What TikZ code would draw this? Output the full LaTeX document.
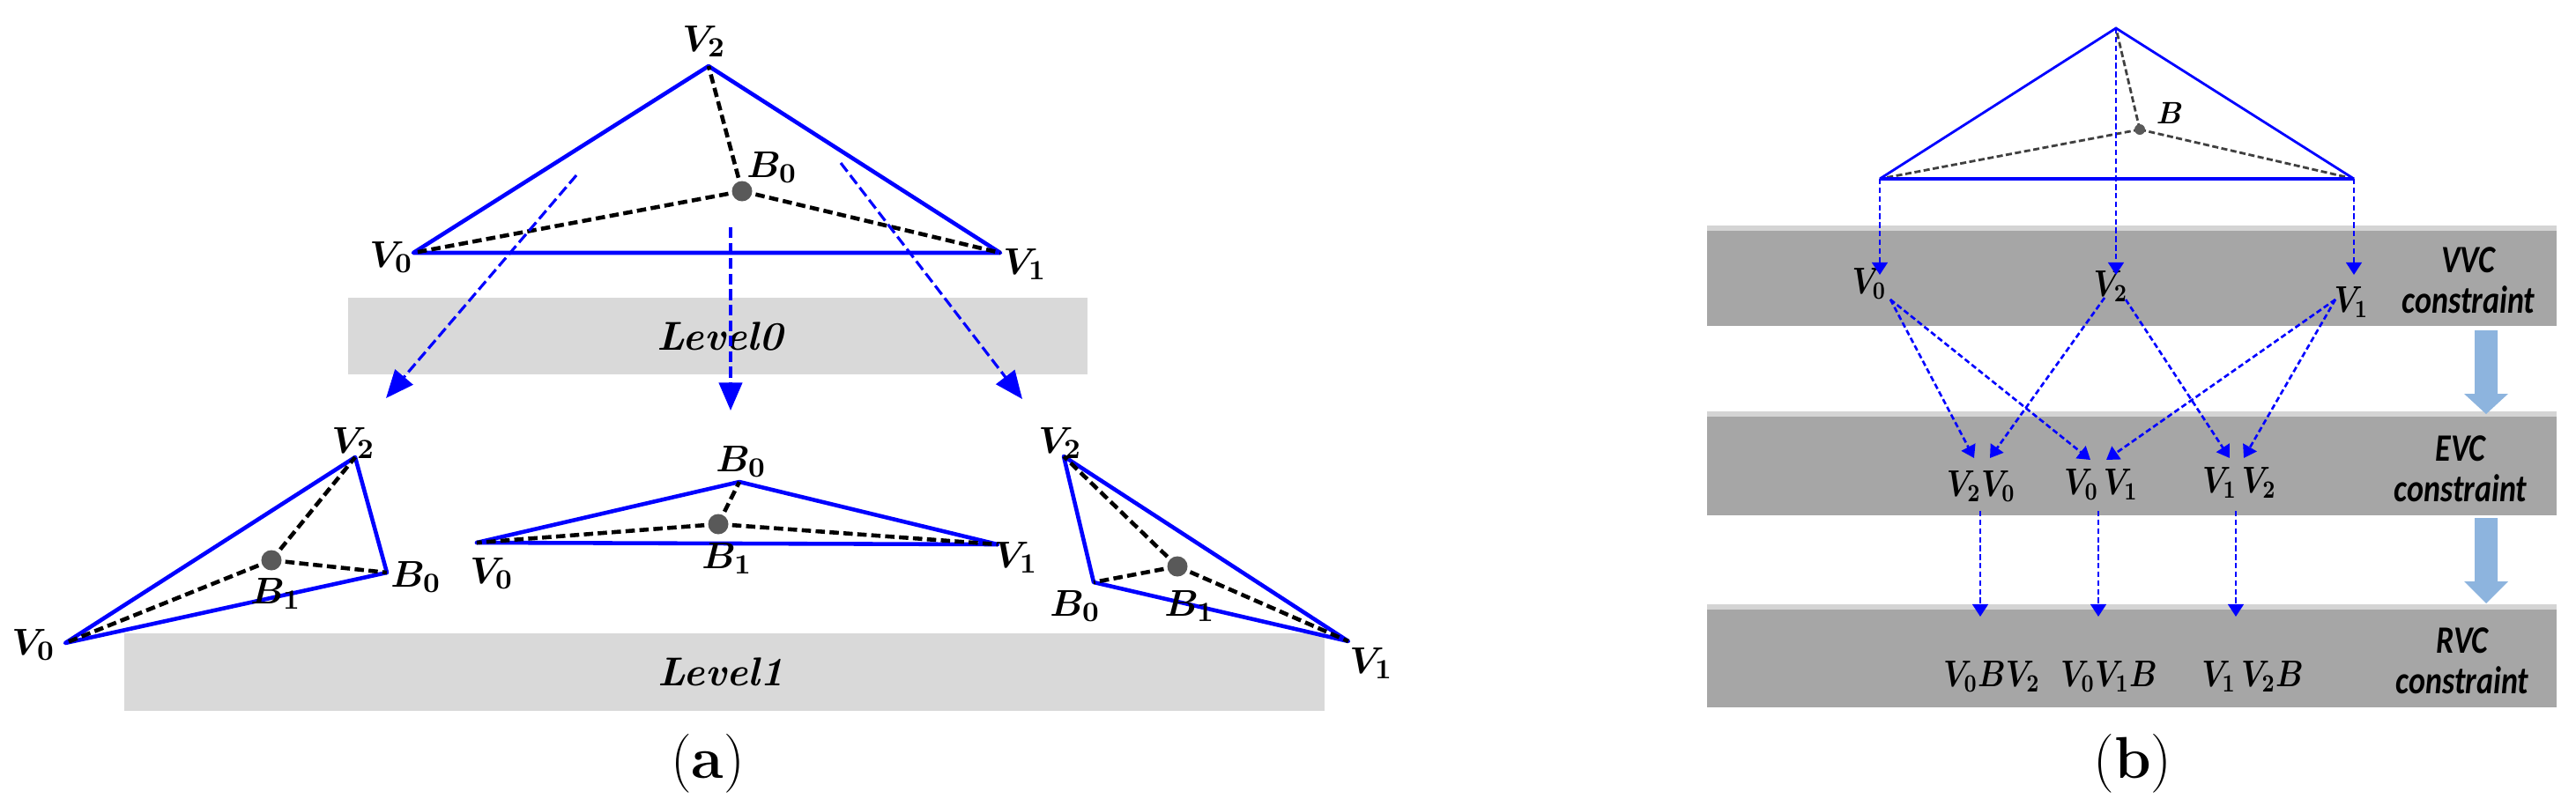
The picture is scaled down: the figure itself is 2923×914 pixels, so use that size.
\documentclass[tikz,border=0pt]{standalone}
\usepackage{bm}
\usepackage{graphicx}
\usepackage{fontspec}
\newfontfamily\carl{Carlito}
\usetikzlibrary{arrows.meta}
\definecolor{lvlgray}{HTML}{D9D9D9}
\definecolor{bandgray}{HTML}{A6A6A6}
\definecolor{bandedge}{HTML}{D4D4D4}
\definecolor{ptgray}{HTML}{595959}
\definecolor{lblue}{RGB}{141,180,222}
\newcommand{\narw}[1]{\scalebox{0.82}[1]{#1}}
\tikzset{
  lbl/.style={font=\fontsize{13}{15}\selectfont, inner sep=0pt},
  rlbl/.style={font=\fontsize{11.5}{13}\selectfont, inner sep=0pt},
  tri/.style={blue, line width=1.3pt, line join=round},
  dsh/.style={black, line width=1.3pt, dash pattern=on 3pt off 1.5pt},
  flow/.style={blue, line width=0.9pt, dash pattern=on 3.5pt off 1.5pt, -{Triangle[length=9pt,width=7.5pt]}},
  rtri/.style={blue, line width=0.8pt},
  rdsh/.style={black!75, line width=0.8pt, dash pattern=on 2pt off 1pt},
  rflow/.style={blue, line width=0.75pt, dash pattern=on 1.8pt off 1pt, -{Triangle[length=4pt,width=5pt]}},
  bpt/.style={circle, fill=ptgray, inner sep=0pt, minimum size=0.23cm},
  spt/.style={circle, fill=ptgray, inner sep=0pt, minimum size=0.12cm},
  lvl/.style={font=\fontsize{13}{15}\selectfont\bfseries\itshape, inner sep=0pt},
  cons/.style={font=\carl\fontsize{12.5}{13}\selectfont\bfseries\itshape, align=center, inner sep=0pt},
  captxt/.style={font=\fontsize{19}{22}\selectfont, inner sep=0pt},
}
\begin{document}
\begin{tikzpicture}[x=0.01cm, y=-0.01cm]
\useasboundingbox (0,0) rectangle (2923,914);

% ---------------- panel (a) ----------------
\fill[lvlgray] (395,338) rectangle (1234,425);
\node[lvl] (lv0) at (817,382) {Level0};
\fill[lvlgray] (141,719) rectangle (1503,807);
\node[lvl] (lv1) at (818,763) {Level1};

% top triangle
\coordinate (aV0) at (469,287);
\coordinate (aV1) at (1135,287);
\coordinate (aV2) at (804,75);
\coordinate (aB0) at (842,217);
\draw[tri] (aV0) -- (aV2) -- (aV1) -- cycle;
\draw[dsh] (aB0) -- (aV0);
\draw[dsh] (aB0) -- (aV1);
\draw[dsh] (aB0) -- (aV2);
\node[bpt] (aB0p) at (aB0) {};
\node[lbl] (taV2) at (799,47) {$\bm{V_2}$};
\node[lbl] (taB0) at (876,190) {$\bm{B_0}$};
\node[lbl] (taV0) at (444,292) {$\bm{V_0}$};
\node[lbl] (taV1) at (1163,300) {$\bm{V_1}$};

% flow arrows
\coordinate (f1s) at (654,199); \coordinate (f1e) at (438,452);
\coordinate (f2s) at (829,258); \coordinate (f2e) at (829,466);
\coordinate (f3s) at (954,185); \coordinate (f3e) at (1160,453);
\draw[flow] (f1s) -- (f1e);
\draw[flow] (f2s) -- (f2e);
\draw[flow] (f3s) -- (f3e);

% bottom-left triangle
\coordinate (bV0) at (74,730);
\coordinate (bV2) at (403,519);
\coordinate (bB0) at (439,650);
\coordinate (bB1) at (308,636);
\draw[tri] (bV0) -- (bV2) -- (bB0) -- cycle;
\draw[dsh] (bB1) -- (bV0);
\draw[dsh] (bB1) -- (bV2);
\draw[dsh] (bB1) -- (bB0);
\node[bpt] (bB1p) at (bB1) {};
\node[lbl] (tbV2) at (401,503) {$\bm{V_2}$};
\node[lbl] (tbB0) at (472,655) {$\bm{B_0}$};
\node[lbl] (tbB1) at (313,674) {$\bm{B_1}$};
\node[lbl] (tbV0) at (38,732) {$\bm{V_0}$};

% middle triangle
\coordinate (mV0) at (541,616);
\coordinate (mB0) at (839,547);
\coordinate (mB1) at (815,595);
\coordinate (mV1) at (1132,618);
\draw[tri] (mV0) -- (mB0) -- (mV1) -- cycle;
\draw[dsh] (mB1) -- (mV0);
\draw[dsh] (mB1) -- (mV1);
\draw[dsh] (mB1) -- (mB0);
\node[bpt] (mB1p) at (mB1) {};
\node[lbl] (tmB0) at (841,524) {$\bm{B_0}$};
\node[lbl] (tmB1) at (825,634) {$\bm{B_1}$};
\node[lbl] (tmV0) at (558,651) {$\bm{V_0}$};
\node[lbl] (tmV1) at (1153,633) {$\bm{V_1}$};

% right triangle
\coordinate (rV2) at (1207,518);
\coordinate (rB0) at (1241,661);
\coordinate (rB1) at (1336,643);
\coordinate (rV1) at (1530,728);
\draw[tri] (rV2) -- (rV1) -- (rB0) -- cycle;
\draw[dsh] (rB1) -- (rV2);
\draw[dsh] (rB1) -- (rV1);
\draw[dsh] (rB1) -- (rB0);
\node[bpt] (rB1p) at (rB1) {};
\node[lbl] (trV2) at (1203,503) {$\bm{V_2}$};
\node[lbl] (trB0) at (1220,688) {$\bm{B_0}$};
\node[lbl] (trB1) at (1350,688) {$\bm{B_1}$};
\node[lbl] (trV1) at (1556,753) {$\bm{V_1}$};

\node[captxt] (capa) at (803,867) {(\textbf{a})};

% ---------------- panel (b) ----------------
\fill[bandedge] (1937,256) rectangle (2901,262);
\fill[bandgray] (1937,262) rectangle (2901,370);
\fill[bandedge] (1937,467) rectangle (2901,473);
\fill[bandgray] (1937,473) rectangle (2901,585);
\fill[bandedge] (1937,686) rectangle (2901,692);
\fill[bandgray] (1937,692) rectangle (2901,803);

% block arrows
\fill[lblue] (2808,375) -- (2834,375) -- (2834,447) -- (2846,447) -- (2821,470) -- (2796,447) -- (2808,447) -- cycle;
\fill[lblue] (2808,588) -- (2834,588) -- (2834,660) -- (2846,660) -- (2821,685) -- (2796,660) -- (2808,660) -- cycle;

% band titles
\node[cons] (vvc) at (2801,318) {\narw{VVC}\\\narw{constraint}};
\node[cons] (evc) at (2792,532) {\narw{EVC}\\\narw{constraint}};
\node[cons] (rvc) at (2794,750) {\narw{RVC}\\\narw{constraint}};

% top triangle
\coordinate (pA) at (2401,32);
\coordinate (pL) at (2133,203);
\coordinate (pR) at (2671,203);
\coordinate (pB) at (2428,147);
\draw[rdsh] (pB) -- (pA);
\draw[rdsh] (pB) -- (pL);
\draw[rdsh] (pB) -- (pR);
\draw[rtri] (pL) -- (pA) -- (pR);
\draw[rtri, line width=1.2pt] (pL) -- (pR);
\node[spt] (pBp) at (pB) {};
\node[font=\fontsize{10}{11}\selectfont\bfseries\itshape, inner sep=0pt] (tpB) at (2461,128) {B};

% VVC labels
\node[rlbl] (vV0) at (2121,322) {\narw{$\bm{V_0}$}};
\node[rlbl] (vV2) at (2395,325) {\narw{$\bm{V_2}$}};
\node[rlbl] (vV1) at (2668,343) {\narw{$\bm{V_1}$}};
\coordinate (tL) at (2133,312);
\coordinate (tA) at (2401,312);
\coordinate (tR) at (2671,312);
\draw[rflow] (pL) -- (tL);
\draw[rflow] (pA) -- (tA);
\draw[rflow] (pR) -- (tR);

% EVC labels
\node[rlbl] (eV20) at (2248,552) {\narw{$\bm{V_2V_0}$}};
\node[rlbl] (eV01) at (2384,550) {\narw{$\bm{V_0\,V_1}$}};
\node[rlbl] (eV12) at (2541,548) {\narw{$\bm{V_1\,V_2}$}};

\coordinate (s0) at (2145,340);
\coordinate (s2a) at (2388,338);
\coordinate (s2b) at (2412,340);
\coordinate (s1) at (2650,340);
\coordinate (e20a) at (2240,520);
\coordinate (e20b) at (2258,520);
\coordinate (e01a) at (2372,522);
\coordinate (e01b) at (2390,522);
\coordinate (e12a) at (2530,520);
\coordinate (e12b) at (2546,520);
\draw[rflow] (s0) -- (e20a);
\draw[rflow] (s0) -- (e01a);
\draw[rflow] (s2a) -- (e20b);
\draw[rflow] (s2b) -- (e12a);
\draw[rflow] (s1) -- (e01b);
\draw[rflow] (s1) -- (e12b);

% RVC labels
\node[rlbl] (q1) at (2260,768) {\narw{$\bm{V_0BV_2}$}};
\node[rlbl] (q2) at (2393,768) {\narw{$\bm{V_0V_1B}$}};
\node[rlbl] (q3) at (2556,768) {\narw{$\bm{V_1\,V_2B}$}};
\coordinate (d1s) at (2247,580); \coordinate (d1e) at (2247,700);
\coordinate (d2s) at (2381,580); \coordinate (d2e) at (2381,700);
\coordinate (d3s) at (2537,580); \coordinate (d3e) at (2537,700);
\draw[rflow] (d1s) -- (d1e);
\draw[rflow] (d2s) -- (d2e);
\draw[rflow] (d3s) -- (d3e);

\node[captxt] (capb) at (2420,867) {(\textbf{b})};
\end{tikzpicture}
\end{document}
